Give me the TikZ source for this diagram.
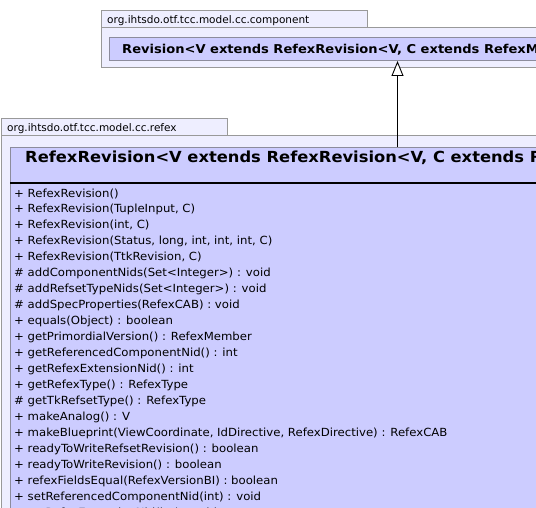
\documentclass[tikz,border=0pt]{standalone}
\usepackage{fontspec}
\setmainfont{DejaVu Sans}
\newfontfamily\methfont[FakeStretch=1.045]{DejaVu Sans}
\newfontfamily\titlefont[FakeStretch=1.07]{DejaVu Sans Bold}
\usetikzlibrary{arrows.meta}
\definecolor{pkgfill}{HTML}{EEEEFF}
\definecolor{pkgline}{HTML}{999999}
\definecolor{clsfill}{HTML}{CCCCFF}
\definecolor{clsline}{HTML}{8C8C9C}
\tikzset{
  pkgbox/.style={fill=pkgfill,draw=pkgline,line width=1pt},
  clsbox/.style={fill=clsfill,draw=clsline,line width=1pt},
  pkglabel/.style={anchor=base west,inner sep=0pt,font=\fontsize{10.5}{13}\selectfont},
  clstitle/.style={anchor=base west,inner sep=0pt,font=\titlefont\fontsize{#1}{16}\selectfont},
  meth/.style={anchor=base west,inner sep=0pt,font=\methfont\fontsize{11.2}{13}\selectfont},
  inherit/.style={-{Triangle[open,length=15pt,width=12pt,fill=white]},line width=0.9pt,black}
}
\begin{document}
\begin{tikzpicture}[x=1pt,y=-1pt]
\useasboundingbox (0,0) rectangle (536,508);
\clip (0,0) rectangle (536,508);
% package 1
\draw[pkgbox] (101,11) rectangle (367,28);
\draw[pkgbox] (101,28) rectangle (545,68);
\node[pkglabel] (p1label) at (107,24) {org.ihtsdo.otf.tcc.model.cc.component};
\node[clsbox,anchor=north west,minimum width=440pt,minimum height=23pt,inner sep=0pt] (c1) at (109,37) {};
\node[clstitle=12.2] (c1title) at (122,53.5) {Revision<V extends RefexRevision<V, C extends RefexMember<V, C>{}>{}>};
% package 2
\draw[pkgbox] (1,119) rectangle (227,136);
\draw[pkgbox] (1,136) rectangle (545,520);
\node[pkglabel] (p2label) at (7,132) {org.ihtsdo.otf.tcc.model.cc.refex};
\node[clsbox,anchor=north west,minimum width=540pt,minimum height=370pt,inner sep=0pt] (c2) at (10,147) {};
\draw[line width=2pt,black] (10,183) -- (545,183);
\node[clstitle=15.25] (c2title) at (25,162.5) {RefexRevision<V extends RefexRevision<V, C extends RefexMember<V, C>{}>{}>};
% methods
\foreach \t [count=\i from 0] in {
  {+ RefexRevision()},
  {+ RefexRevision(TupleInput, C)},
  {+ RefexRevision(int, C)},
  {+ RefexRevision(Status, long, int, int, int, C)},
  {+ RefexRevision(TtkRevision, C)},
  {\# addComponentNids(Set<Integer>) : void},
  {\# addRefsetTypeNids(Set<Integer>) : void},
  {\# addSpecProperties(RefexCAB) : void},
  {+ equals(Object) : boolean},
  {+ getPrimordialVersion() : RefexMember},
  {+ getReferencedComponentNid() : int},
  {+ getRefexExtensionNid() : int},
  {+ getRefexType() : RefexType},
  {\# getTkRefsetType() : RefexType},
  {+ makeAnalog() : V},
  {+ makeBlueprint(ViewCoordinate, IdDirective, RefexDirective) : RefexCAB},
  {+ readyToWriteRefsetRevision() : boolean},
  {+ readyToWriteRevision() : boolean},
  {+ refexFieldsEqual(RefexVersionBI) : boolean},
  {+ setReferencedComponentNid(int) : void},
  {+ setRefexExtensionNid(int) : void}}
  \node[meth] (m\i) at (14,197+15.95*\i) {\t};
% inheritance
\coordinate (ax) at (397.5,0);
\draw[inherit] (c2.north -| ax) -- (c1.south -| ax);
\end{tikzpicture}
\end{document}
